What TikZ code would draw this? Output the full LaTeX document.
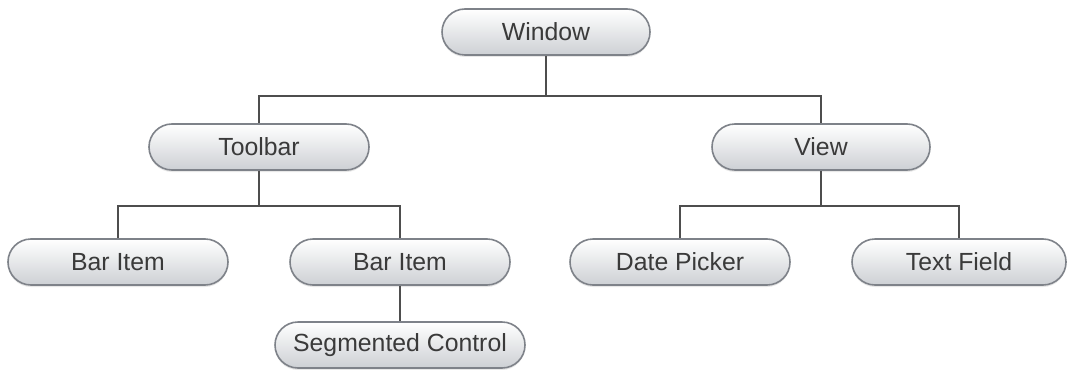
\documentclass[tikz,border=0pt]{standalone}
\usepackage{fontspec}
\setmainfont{Liberation Sans}
\usepackage{tikz}
\usetikzlibrary{shadows}
\definecolor{rand}{HTML}{7E8289}
\definecolor{linie}{HTML}{4E4E4E}
\definecolor{schrift}{HTML}{3A3A3A}
\definecolor{unten}{HTML}{CDD0D4}
\tikzset{
  pill/.style={rectangle,rounded corners=11.5pt,minimum width=110pt,minimum height=23pt,
    top color=white,bottom color=unten,draw=rand,line width=0.8pt,text=schrift,
    font=\fontsize{12.4}{14}\selectfont,
    drop shadow={opacity=0.18,shadow xshift=0pt,shadow yshift=-1pt}},
  link/.style={linie,line width=1pt},
}
\begin{document}
\begin{tikzpicture}[x=0.5pt,y=-0.5pt]
  \useasboundingbox (0,0) rectangle (1068,369);
  % Knoten
  \node[pill,minimum width=104pt] (win) at (546,32) {Window};
  \node[pill] (tb) at (259,147) {Toolbar};
  \node[pill,minimum width=109pt] (view) at (821,147) {View};
  \node[pill] (bi1) at (118,262) {Bar Item};
  \node[pill] (bi2) at (400,262) {Bar Item};
  \node[pill,minimum width=125pt] (seg) at (400,345) {Segmented Control};
  \node[pill] (dp) at (680,262) {Date Picker};
  \node[pill,minimum width=107pt] (tf) at (959,262) {Text Field};
  % Verbindungen
  \draw[link] (win.south) -- ++(0,-20pt) -| (tb.north);
  \draw[link] (win.south) -- ++(0,-20pt) -| (view.north);
  \draw[link] (tb.south) -- ++(0,-17.5pt) -| (bi1.north);
  \draw[link] (tb.south) -- ++(0,-17.5pt) -| (bi2.north);
  \draw[link] (bi2.south) -- (seg.north);
  \draw[link] (view.south) -- ++(0,-17.5pt) -| (dp.north);
  \draw[link] (view.south) -- ++(0,-17.5pt) -| (tf.north);
\end{tikzpicture}
\end{document}
